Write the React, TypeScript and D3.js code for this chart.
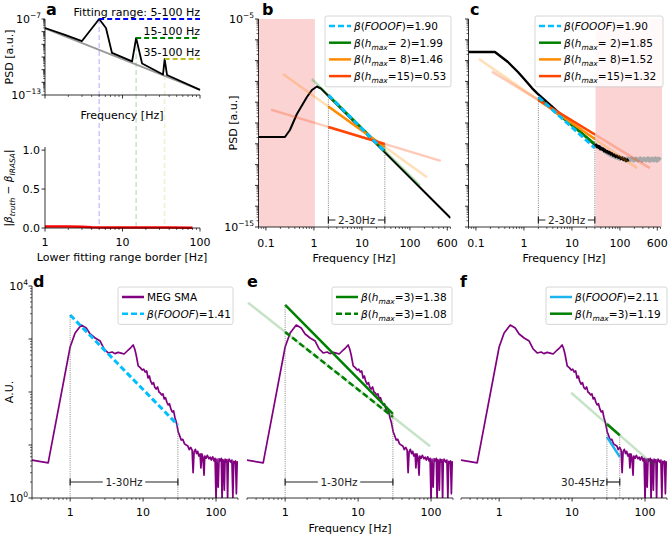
import React from 'react';
import * as d3 from 'd3';

type P = [number, number];

const FONT = "'DejaVu Sans', Verdana, sans-serif";
const W = 669;
const H = 537;
const FS = 11;

// ---------------- Panel a (top): [Hz, log10 PSD] ----------------
const aSpectrum: P[] = [
  [1, -7.71], [1.81, -8.26], [3.0, -8.74], [5, -7.0], [6.12, -7.71], [7.32, -9.68],
  [13.3, -10.35], [15, -8.5], [17.9, -10.51], [33.3, -11.38], [35, -10.16], [37.5, -11.42], [100, -12.6],
];
const aAperiodic: P[] = [[1, -7.74], [100, -12.6]];
const aRangeStart = [5, 15, 35];
const aRangeEnd = 100;
const aRangePeak = [-7.0, -8.5, -10.16];
const aRangeText = ['Fitting range: 5-100 Hz', '15-100 Hz', '35-100 Hz'];
const aRangeColor = ['#0000ff', '#008000', '#bcbd22'];
// Panel a (bottom): |beta_truth - beta_IRASA|
const aError: P[] = [
  [1, 0.02], [2, 0.02], [3, 0.017], [4, 0.01], [6, 0.007], [10, 0.005], [20, 0.005], [40, 0.005], [80, 0.004],
];
const aErrTicks = [0, 0.5, 1.0];
const aFreqTicks = [1, 10, 100];

// ---------------- Panels b, c: [Hz, log10 PSD] ----------------
const bSpectrum: P[] = [
  [0.07, -10.673], [0.249, -10.673], [0.316, -10.337], [0.442, -9.567], [0.715, -8.75],
  [0.909, -8.413], [1.154, -8.245], [1.4, -8.341], [700, -14.567],
];
const cSpectrum: P[] = [
  [0.07, -6.587], [0.249, -6.587], [0.464, -7.067], [0.75, -7.548], [1.1, -7.98], [1.47, -8.32],
  [1.87, -8.56], [30.4, -11.06], [31, -11.1], [32, -11.04], [33, -11.16], [34.5, -11.09], [36, -11.19],
  [37.5, -11.12], [39, -11.26], [41, -11.19], [43, -11.29], [45, -11.23], [47, -11.36], [49, -11.29],
  [52, -11.41], [55, -11.35], [58, -11.46], [61, -11.39], [64, -11.51], [68, -11.45], [72, -11.57],
  [76, -11.51], [81, -11.63], [86, -11.56], [92, -11.67], [98, -11.61], [104, -11.73], [111, -11.66],
  [118, -11.78], [126, -11.71], [134, -11.83], [142, -11.75], [150, -11.85],
];
const cNoiseFloor: P[] = [
  [35, -11.15], [45, -11.3], [55, -11.45], [70, -11.58], [85, -11.66], [100, -11.72], [115, -11.68],
  [130, -11.8], [145, -11.7], [160, -11.79], [175, -11.7], [195, -11.8], [215, -11.71], [240, -11.8],
  [265, -11.7], [290, -11.81], [320, -11.71], [350, -11.8], [385, -11.7], [420, -11.81], [460, -11.71],
  [500, -11.8], [545, -11.7], [590, -11.81], [640, -11.71], [700, -11.78],
];
const bShade = [0.07, 1.05];
const cShade = [31, 700];
const bcTicks = [0.1, 1, 10, 100, 600];
const bcTickText = ['0.1', '1', '10', '100', '600'];

const fitColors = ['#00bfff', '#008000', '#ff8c00', '#ff4500'];
const fitHmax = ['', ' 2', ' 8', '15'];
const bBeta = ['1.90', '1.99', '1.46', '0.53'];
const cBeta = ['1.90', '1.85', '1.52', '1.32'];
const bcFitRange = [2, 30];
const bFitLog = [[-8.654, -11.37], [-8.668, -11.346], [-9.207, -11.154], [-10.192, -11.01]];
const cFitLog = [[-8.75, -11.202], [-8.798, -11.01], [-8.894, -10.769], [-8.894, -10.553]];
const bExtent: (number[] | null)[] = [null, [0.909, 162], [0.226, 227], [0.127, 439]];
const cExtent: (number[] | null)[] = [null, null, [0.1155, 227], [0.215, 421]];

// ---------------- Panels d, e, f: MEG SMA spectrum [Hz, A.U.] ----------------
const megSpectrum: P[] = [
  [0.3, 5.2], [0.5, 4.6], [1.0, 706], [1.17, 1298], [1.42, 1836], [1.66, 1614], [1.88, 1243], [2.2, 1044],
  [2.58, 916], [2.93, 647], [3.32, 545], [3.77, 569], [4.1, 530], [4.55, 560], [5.0, 540], [5.5, 521],
  [6.25, 620], [6.8, 690], [7.31, 771], [7.7, 640], [8.04, 499], [8.57, 310], [9.2, 285], [9.72, 260],
  [10.2, 270], [10.7, 238], [11.2, 250], [11.7, 184], [12.2, 200], [12.7, 160], [13.3, 141], [13.9, 150],
  [14.5, 122], [15.1, 114], [15.8, 125], [16.5, 100], [17.2, 96], [18.0, 88], [18.7, 92], [19.5, 74],
  [20.3, 78], [21.2, 64], [22.1, 57], [23.0, 60], [24.0, 48], [25.1, 42], [26.2, 44], [27.3, 33],
  [28.5, 27], [29.4, 22], [30.3, 17.6], [31.5, 15.5], [33.3, 12.4], [35, 12.8], [37, 10.5], [39, 10],
  [41, 9.6], [43, 8.2], [45, 9.0], [47, 8.0], [48.5, 3.0], [50, 7.5], [52, 8.3], [54, 6.9], [56, 7.6],
  [58, 6.2], [60.5, 6.8], [62, 3.7], [64, 6.8], [66, 5.9], [68.5, 2.7], [70, 6.2], [73, 5.6], [76, 6.4],
  [80, 5.5], [83, 5.9], [86, 5.2], [90, 6.0], [94, 5.0], [97, 5.6], [100, 0.9], [103, 5.4], [107, 1.6],
  [110, 5.5], [114, 5.0], [118, 5.6], [121, 0.9], [124, 5.3], [127, 4.9], [130, 1.4], [133, 5.4],
  [137, 4.8], [141, 5.3], [144, 0.9], [147, 4.6], [151, 5.4], [155, 5.1], [160, 4.7], [165, 5.2],
  [170, 1.0], [175, 4.9], [180, 4.5], [185, 5.0], [190, 1.2], [195, 4.8], [200, 4.6],
];
// fits: [Hz, A.U.] endpoints
const dFooof: P[] = [[1, 2838], [30, 23.8]];
const eHmaxSolid: P[] = [[1, 4385], [30, 38.5]];
const eHmaxDashed: P[] = [[1, 1355], [30, 33.8]];
const eExtent = [0.31, 97];
const fFooof: P[] = [[30, 14.2], [45, 5.97]];
const fHmax: P[] = [[30, 24.9], [45, 15.3]];
const fExtent = [9.7, 133];
const defTicks = [1, 10, 100];

// ---------------- helpers ----------------
function logMajor(lo: number, hi: number) {
  const out: number[] = [];
  for (let e = Math.ceil(Math.log10(lo) - 1e-9); e <= Math.floor(Math.log10(hi) + 1e-9); e++) out.push(Math.pow(10, e));
  return out;
}
function logMinor(lo: number, hi: number) {
  const out: number[] = [];
  for (let e = Math.floor(Math.log10(lo)) - 1; e <= Math.ceil(Math.log10(hi)); e++)
    for (let k = 2; k <= 9; k++) {
      const v = k * Math.pow(10, e);
      if (v >= lo * 0.9999 && v <= hi * 1.0001) out.push(v);
    }
  return out;
}
// extrapolate straight line in log-log through two points
function extend(p: P[], f: number) {
  const [[f1, v1], [f2, v2]] = p;
  const s = (Math.log10(v2) - Math.log10(v1)) / (Math.log10(f2) - Math.log10(f1));
  return Math.pow(10, Math.log10(v1) + s * (Math.log10(f) - Math.log10(f1)));
}
const toLin = (pts: P[]): P[] => pts.map(([f, l]) => [f, Math.pow(10, l)]);

function XAxis({ x, y, major, minor, labels, ly = 18 }: any) {
  const [r0, r1] = x.range();
  return (
    <g>
      <line x1={r0} x2={r1} y1={y} y2={y} stroke="#000" strokeWidth={0.8} />
      {minor.map((v: number, i: number) => (
        <line key={'m' + i} x1={x(v)} x2={x(v)} y1={y} y2={y + 2} stroke="#000" strokeWidth={0.6} />
      ))}
      {major.map((v: number, i: number) => (
        <line key={'M' + i} x1={x(v)} x2={x(v)} y1={y} y2={y + 3.5} stroke="#000" strokeWidth={0.8} />
      ))}
      {labels &&
        labels.map((t: string, i: number) => (
          <text key={'l' + i} x={x(major[i])} y={y + ly} textAnchor="middle" fontSize={FS}>
            {t}
          </text>
        ))}
    </g>
  );
}
function YAxis({ y, x, major, minor }: any) {
  const [r0, r1] = y.range();
  return (
    <g>
      <line x1={x} x2={x} y1={r0} y2={r1} stroke="#000" strokeWidth={0.8} />
      {minor.map((v: number, i: number) => (
        <line key={'m' + i} x1={x - 2} x2={x} y1={y(v)} y2={y(v)} stroke="#000" strokeWidth={0.6} />
      ))}
      {major.map((v: number, i: number) => (
        <line key={'M' + i} x1={x - 3.5} x2={x} y1={y(v)} y2={y(v)} stroke="#000" strokeWidth={0.8} />
      ))}
    </g>
  );
}
function Pow10({ x, y, exp }: any) {
  return (
    <text x={x} y={y + 4} textAnchor="end" fontSize={FS}>
      10<tspan fontSize={7.5} dy={-5}>{exp}</tspan>
    </text>
  );
}
function FooofLabel({ v }: any) {
  return (
    <>
      <tspan fontStyle="italic">β</tspan>
      <tspan>(</tspan>
      <tspan fontStyle="italic">FOOOF</tspan>
      <tspan>)={v}</tspan>
    </>
  );
}
function HmaxLabel({ h, v }: any) {
  return (
    <>
      <tspan fontStyle="italic">β</tspan>
      <tspan>(</tspan>
      <tspan fontStyle="italic">h</tspan>
      <tspan fontStyle="italic" fontSize={7.5} dy={3}>max</tspan>
      <tspan dy={-3}>={h})={v}</tspan>
    </>
  );
}
function Legend({ x, y, w, items, rowH = 16.7, hx = 4, hl = 22 }: any) {
  const h = items.length * rowH + 4;
  return (
    <g>
      <rect x={x} y={y} width={w} height={h} rx={2} fill="#fff" fillOpacity={0.85} stroke="#cccccc" strokeWidth={0.8} />
      {items.map((it: any, i: number) => {
        const cy = y + 10 + i * rowH;
        return (
          <g key={i}>
            <line x1={x + hx} x2={x + hx + hl} y1={cy} y2={cy} stroke={it.color} strokeWidth={2.5} strokeDasharray={it.dash} />
            <text x={x + hx + hl + 3} y={cy + 3.8} fontSize={10.5}>
              {it.label}
            </text>
          </g>
        );
      })}
    </g>
  );
}
function Bracket({ x1, x2, y, text, side = 'center' }: any) {
  const tw = text.length * 6.4;
  const cx = (x1 + x2) / 2;
  return (
    <g stroke="#222" strokeWidth={1.2}>
      <line x1={x1} x2={x2} y1={y} y2={y} />
      <line x1={x1} x2={x1} y1={y - 3.5} y2={y + 3.5} />
      <line x1={x2} x2={x2} y1={y - 3.5} y2={y + 3.5} />
      {side === 'center' ? (
        <>
          <rect x={cx - tw / 2 - 2} y={y - 6} width={tw + 4} height={12} fill="#fff" stroke="none" />
          <text x={cx} y={y + 3.8} textAnchor="middle" fontSize={10.5} stroke="none" fill="#222">
            {text}
          </text>
        </>
      ) : (
        <text x={x1 - 2} y={y + 3.8} textAnchor="end" fontSize={10.5} stroke="none" fill="#222">
          {text}
        </text>
      )}
    </g>
  );
}
function VDot({ x, y1, y2 }: any) {
  return <line x1={x} x2={x} y1={y1} y2={y2} stroke="#666" strokeWidth={0.8} strokeDasharray="1,1.2" />;
}
function PanelLabel({ x, y, t }: any) {
  return (
    <text x={x} y={y} fontSize={16} fontWeight="bold">
      {t}
    </text>
  );
}

export default function App() {
  // ---- scales ----
  const aX = d3.scaleLog().domain([1, 100]).range([45, 200]);
  const aYt = d3.scaleLog().domain([1e-13, 1e-7]).range([95, 19]);
  const aYb = d3.scaleLinear().domain([0, 1.04]).range([228, 147]);
  const bX = d3.scaleLog().domain([0.07, 700]).range([258.5, 450.5]);
  const cX = d3.scaleLog().domain([0.07, 700]).range([468.5, 660.5]);
  const bcY = d3.scaleLog().domain([1e-15, 1e-5]).range([227, 19]);
  const dX = d3.scaleLog().domain([0.3, 200]).range([32, 238]);
  const eX = d3.scaleLog().domain([0.3, 200]).range([247, 453]);
  const fX = d3.scaleLog().domain([0.3, 200]).range([461, 667]);
  const defY = d3.scaleLog().domain([1, 1e4]).range([498, 286]);

  const mk = (x: any, y: any) =>
    d3
      .line<P>()
      .x((d) => x(d[0]))
      .y((d) => y(d[1]));

  const aLineT = mk(aX, aYt);
  const aLineB = mk(aX, aYb);
  const bLine = mk(bX, bcY);
  const cLine = mk(cX, bcY);
  const dLine = mk(dX, defY);
  const eLine = mk(eX, defY);
  const fLine = mk(fX, defY);

  const fitPts = (logs: number[]): P[] => [
    [bcFitRange[0], Math.pow(10, logs[0])],
    [bcFitRange[1], Math.pow(10, logs[1])],
  ];

  const renderBC = (line: any, fitLog: number[][], extent: (number[] | null)[]) => {
    const faint = fitLog.map((lg, i) => {
      const ex = extent[i];
      if (!ex) return null;
      const p = fitPts(lg);
      const pts: P[] = [
        [ex[0], extend(p, ex[0])],
        [ex[1], extend(p, ex[1])],
      ];
      return <path key={'f' + i} d={line(pts)} stroke={fitColors[i]} strokeOpacity={0.28} strokeWidth={2.5} fill="none" />;
    });
    const order = [1, 2, 3, 0];
    const solid = order.map((i) => (
      <path
        key={'s' + i}
        d={line(fitPts(fitLog[i]))}
        stroke={fitColors[i]}
        strokeWidth={i === 0 ? 3 : 2.5}
        strokeDasharray={i === 0 ? '6,3' : undefined}
        fill="none"
      />
    ));
    return { faint, solid };
  };

  const bFits = renderBC(bLine, bFitLog, bExtent);
  const cFits = renderBC(cLine, cFitLog, cExtent);
  const topAt = (fitLog: number[][], idx: number) => Math.min(...fitLog.map((lg) => bcY(Math.pow(10, lg[idx]))));

  const bcMinor = logMinor(0.07, 700).filter((v) => Math.abs(v - 600) > 1);
  const defMinor = logMinor(0.3, 200);

  const legendBC = (beta: string[]) =>
    fitColors.map((c, i) => ({
      color: c,
      dash: i === 0 ? '6,3' : undefined,
      label: i === 0 ? <FooofLabel v={beta[0]} /> : <HmaxLabel h={fitHmax[i]} v={beta[i]} />,
    }));

  const purple = '#800080';

  return (
    <svg width={W} height={H} style={{ position: 'absolute', left: 0, top: 0, background: '#fff' }} fontFamily={FONT}>
      <defs>
        <clipPath id="clipB">
          <rect x={258.5} y={19} width={192} height={208} />
        </clipPath>
        <clipPath id="clipC">
          <rect x={468.5} y={19} width={194} height={208} />
        </clipPath>
        <clipPath id="clipD">
          <rect x={32} y={286} width={206} height={212} />
        </clipPath>
        <clipPath id="clipE">
          <rect x={247} y={286} width={206} height={212} />
        </clipPath>
        <clipPath id="clipF">
          <rect x={461} y={286} width={206} height={212} />
        </clipPath>
      </defs>
      <rect width={W} height={H} fill="#fff" />

      {/* ================= Panel a ================= */}
      {aRangeStart.map((f, i) => (
        <line
          key={'av' + i}
          x1={aX(f)}
          x2={aX(f)}
          y1={aYt(Math.pow(10, aRangePeak[i]))}
          y2={aYb(0)}
          stroke={aRangeColor[i]}
          strokeOpacity={0.22}
          strokeWidth={1.5}
          strokeDasharray="5,3"
        />
      ))}
      <path d={aLineT(toLin(aAperiodic)) as string} stroke="#999" strokeWidth={1.8} fill="none" />
      <path d={aLineT(toLin(aSpectrum)) as string} stroke="#000" strokeWidth={1.8} fill="none" strokeLinejoin="round" />
      {aRangeStart.map((f, i) => (
        <g key={'ar' + i}>
          <line
            x1={aX(f)}
            x2={aX(aRangeEnd)}
            y1={aYt(Math.pow(10, aRangePeak[i]))}
            y2={aYt(Math.pow(10, aRangePeak[i]))}
            stroke={aRangeColor[i]}
            strokeWidth={2}
            strokeDasharray="5,3"
          />
          <text x={aX(aRangeEnd)} y={aYt(Math.pow(10, aRangePeak[i])) - 3.5} textAnchor="end" fontSize={FS}>
            {aRangeText[i]}
          </text>
        </g>
      ))}
      <XAxis x={aX} y={95} major={aFreqTicks} minor={logMinor(1, 100)} />
      <YAxis y={aYt} x={45} major={logMajor(1e-13, 1e-7)} minor={logMinor(1e-13, 1e-7)} />
      <Pow10 x={41} y={aYt(1e-7)} exp="−7" />
      <Pow10 x={41} y={aYt(1e-13)} exp="−13" />
      <text x={122} y={119} textAnchor="middle" fontSize={FS}>
        Frequency [Hz]
      </text>
      <text transform="translate(13,57) rotate(-90)" textAnchor="middle" fontSize={FS}>
        PSD [a.u.]
      </text>
      <PanelLabel x={46} y={15} t="a" />

      <path d={aLineB(aError) as string} stroke="#ff0000" strokeWidth={2.5} fill="none" />
      <XAxis x={aX} y={228} major={aFreqTicks} minor={logMinor(1, 100)} labels={['1', '10', '100']} ly={18} />
      <line x1={45} x2={45} y1={147} y2={228} stroke="#000" strokeWidth={0.8} />
      {aErrTicks.map((v, i) => (
        <g key={'ae' + i}>
          <line x1={41.5} x2={45} y1={aYb(v)} y2={aYb(v)} stroke="#000" strokeWidth={0.8} />
          <text x={40} y={aYb(v) + 4} textAnchor="end" fontSize={FS}>
            {v.toFixed(1)}
          </text>
        </g>
      ))}
      <text x={122} y={261} textAnchor="middle" fontSize={FS}>
        Lower fitting range border [Hz]
      </text>
      <text transform="translate(12,188) rotate(-90)" textAnchor="middle" fontSize={10.5}>
        |<tspan fontStyle="italic">β</tspan>
        <tspan fontStyle="italic" fontSize={7.5} dy={2.5}>truth</tspan>
        <tspan dy={-2.5}> − </tspan>
        <tspan fontStyle="italic">β</tspan>
        <tspan fontStyle="italic" fontSize={7.5} dy={2.5}>IRASA</tspan>
        <tspan dy={-2.5}>|</tspan>
      </text>

      {/* ================= Panel b ================= */}
      <rect x={bX(bShade[0])} y={19} width={bX(bShade[1]) - bX(bShade[0])} height={208} fill="#fbd3d3" />
      <g clipPath="url(#clipB)">
        <path d={bLine(toLin(bSpectrum)) as string} stroke="#000" strokeWidth={2} fill="none" strokeLinejoin="round" />
        {bFits.faint}
        {bFits.solid}
      </g>
      <VDot x={bX(2)} y1={topAt(bFitLog, 0)} y2={227} />
      <VDot x={bX(30)} y1={topAt(bFitLog, 1)} y2={227} />
      <Bracket x1={bX(2)} x2={bX(30)} y={220} text="2-30Hz" />
      <XAxis x={bX} y={227} major={bcTicks} minor={bcMinor} labels={bcTickText} ly={19.5} />
      <YAxis y={bcY} x={258.5} major={logMajor(1e-15, 1e-5)} minor={logMinor(1e-15, 1e-5)} />
      <Pow10 x={254} y={bcY(1e-5)} exp="−5" />
      <Pow10 x={254} y={bcY(1e-15)} exp="−15" />
      <text x={354} y={262} textAnchor="middle" fontSize={FS}>
        Frequency [Hz]
      </text>
      <text transform="translate(237,123) rotate(-90)" textAnchor="middle" fontSize={FS}>
        PSD [a.u.]
      </text>
      <Legend x={325} y={16} w={126} items={legendBC(bBeta)} />
      <PanelLabel x={262} y={15} t="b" />

      {/* ================= Panel c ================= */}
      <rect x={cX(cShade[0])} y={19} width={cX(cShade[1]) - cX(cShade[0]) + 1.5} height={208} fill="#fbd3d3" />
      <g clipPath="url(#clipC)">
        <path d={cLine(toLin(cNoiseFloor)) as string} stroke="#a8a8a8" strokeWidth={4} fill="none" strokeLinejoin="round" />
        <path d={cLine(toLin(cSpectrum)) as string} stroke="#000" strokeWidth={2.4} fill="none" strokeLinejoin="round" />
        {cFits.faint}
        {cFits.solid}
      </g>
      <VDot x={cX(2)} y1={topAt(cFitLog, 0)} y2={227} />
      <VDot x={cX(30)} y1={topAt(cFitLog, 1)} y2={227} />
      <Bracket x1={cX(2)} x2={cX(30)} y={220} text="2-30Hz" />
      <XAxis x={cX} y={227} major={bcTicks} minor={bcMinor} labels={bcTickText} ly={19.5} />
      <YAxis y={bcY} x={468.5} major={logMajor(1e-15, 1e-5)} minor={logMinor(1e-15, 1e-5)} />
      <text x={564} y={262} textAnchor="middle" fontSize={FS}>
        Frequency [Hz]
      </text>
      <Legend x={535} y={16} w={128} items={legendBC(cBeta)} />
      <PanelLabel x={470} y={15} t="c" />

      {/* ================= Panel d ================= */}
      <g clipPath="url(#clipD)">
        <path d={dLine(megSpectrum) as string} stroke={purple} strokeWidth={1.7} fill="none" strokeLinejoin="round" />
        <path d={dLine(dFooof) as string} stroke="#00bfff" strokeWidth={3} strokeDasharray="6,3" fill="none" />
      </g>
      <VDot x={dX(1)} y1={defY(dFooof[0][1])} y2={498} />
      <VDot x={dX(30)} y1={defY(dFooof[1][1])} y2={498} />
      <Bracket x1={dX(1)} x2={dX(30)} y={482} text="1-30Hz" />
      <XAxis x={dX} y={498} major={defTicks} minor={defMinor} labels={['1', '10', '100']} ly={18} />
      <YAxis y={defY} x={32} major={logMajor(1, 1e4)} minor={logMinor(1, 1e4)} />
      <Pow10 x={28} y={defY(1e4)} exp="4" />
      <Pow10 x={28} y={defY(1)} exp="0" />
      <text transform="translate(13,392) rotate(-90)" textAnchor="middle" fontSize={FS}>
        A.U.
      </text>
      <Legend
        x={118}
        y={287}
        w={115}
        items={[
          { color: purple, label: <tspan>MEG SMA</tspan> },
          { color: '#00bfff', dash: '6,3', label: <FooofLabel v="1.41" /> },
        ]}
      />
      <PanelLabel x={33} y={287} t="d" />

      {/* ================= Panel e ================= */}
      <g clipPath="url(#clipE)">
        <path d={eLine(megSpectrum) as string} stroke={purple} strokeWidth={1.7} fill="none" strokeLinejoin="round" />
        <path
          d={eLine([[eExtent[0], extend(eHmaxDashed, eExtent[0])], [eExtent[1], extend(eHmaxDashed, eExtent[1])]]) as string}
          stroke="#008000"
          strokeOpacity={0.22}
          strokeWidth={2.5}
          fill="none"
        />
        <path d={eLine(eHmaxSolid) as string} stroke="#008000" strokeWidth={2.5} fill="none" />
        <path d={eLine(eHmaxDashed) as string} stroke="#008000" strokeWidth={2.5} strokeDasharray="6,3" fill="none" />
      </g>
      <VDot x={eX(1)} y1={defY(eHmaxSolid[0][1])} y2={498} />
      <VDot x={eX(30)} y1={defY(eHmaxSolid[1][1])} y2={498} />
      <Bracket x1={eX(1)} x2={eX(30)} y={482} text="1-30Hz" />
      <XAxis x={eX} y={498} major={defTicks} minor={defMinor} labels={['1', '10', '100']} ly={18} />
      <text x={350} y={532} textAnchor="middle" fontSize={FS}>
        Frequency [Hz]
      </text>
      <Legend
        x={332}
        y={287}
        w={120}
        items={[
          { color: '#008000', label: <HmaxLabel h="3" v="1.38" /> },
          { color: '#008000', dash: '6,3', label: <HmaxLabel h="3" v="1.08" /> },
        ]}
      />
      <PanelLabel x={247} y={287} t="e" />

      {/* ================= Panel f ================= */}
      <g clipPath="url(#clipF)">
        <path d={fLine(megSpectrum) as string} stroke={purple} strokeWidth={1.7} fill="none" strokeLinejoin="round" />
        <path
          d={fLine([[fExtent[0], extend(fHmax, fExtent[0])], [fExtent[1], extend(fHmax, fExtent[1])]]) as string}
          stroke="#008000"
          strokeOpacity={0.22}
          strokeWidth={2.5}
          fill="none"
        />
        <path d={fLine(fHmax) as string} stroke="#008000" strokeWidth={2.5} fill="none" />
        <path d={fLine(fFooof) as string} stroke="#1cb4f0" strokeWidth={2.5} fill="none" />
      </g>
      <VDot x={fX(30)} y1={defY(fHmax[0][1])} y2={498} />
      <VDot x={fX(45)} y1={defY(fHmax[1][1])} y2={498} />
      <Bracket x1={fX(30)} x2={fX(45)} y={482} text="30-45Hz" side="left" />
      <XAxis x={fX} y={498} major={defTicks} minor={defMinor} labels={['1', '10', '100']} ly={18} />
      <Legend
        x={546}
        y={287}
        w={121}
        items={[
          { color: '#1cb4f0', label: <FooofLabel v="2.11" /> },
          { color: '#008000', label: <HmaxLabel h="3" v="1.19" /> },
        ]}
      />
      <PanelLabel x={460} y={287} t="f" />
    </svg>
  );
}
